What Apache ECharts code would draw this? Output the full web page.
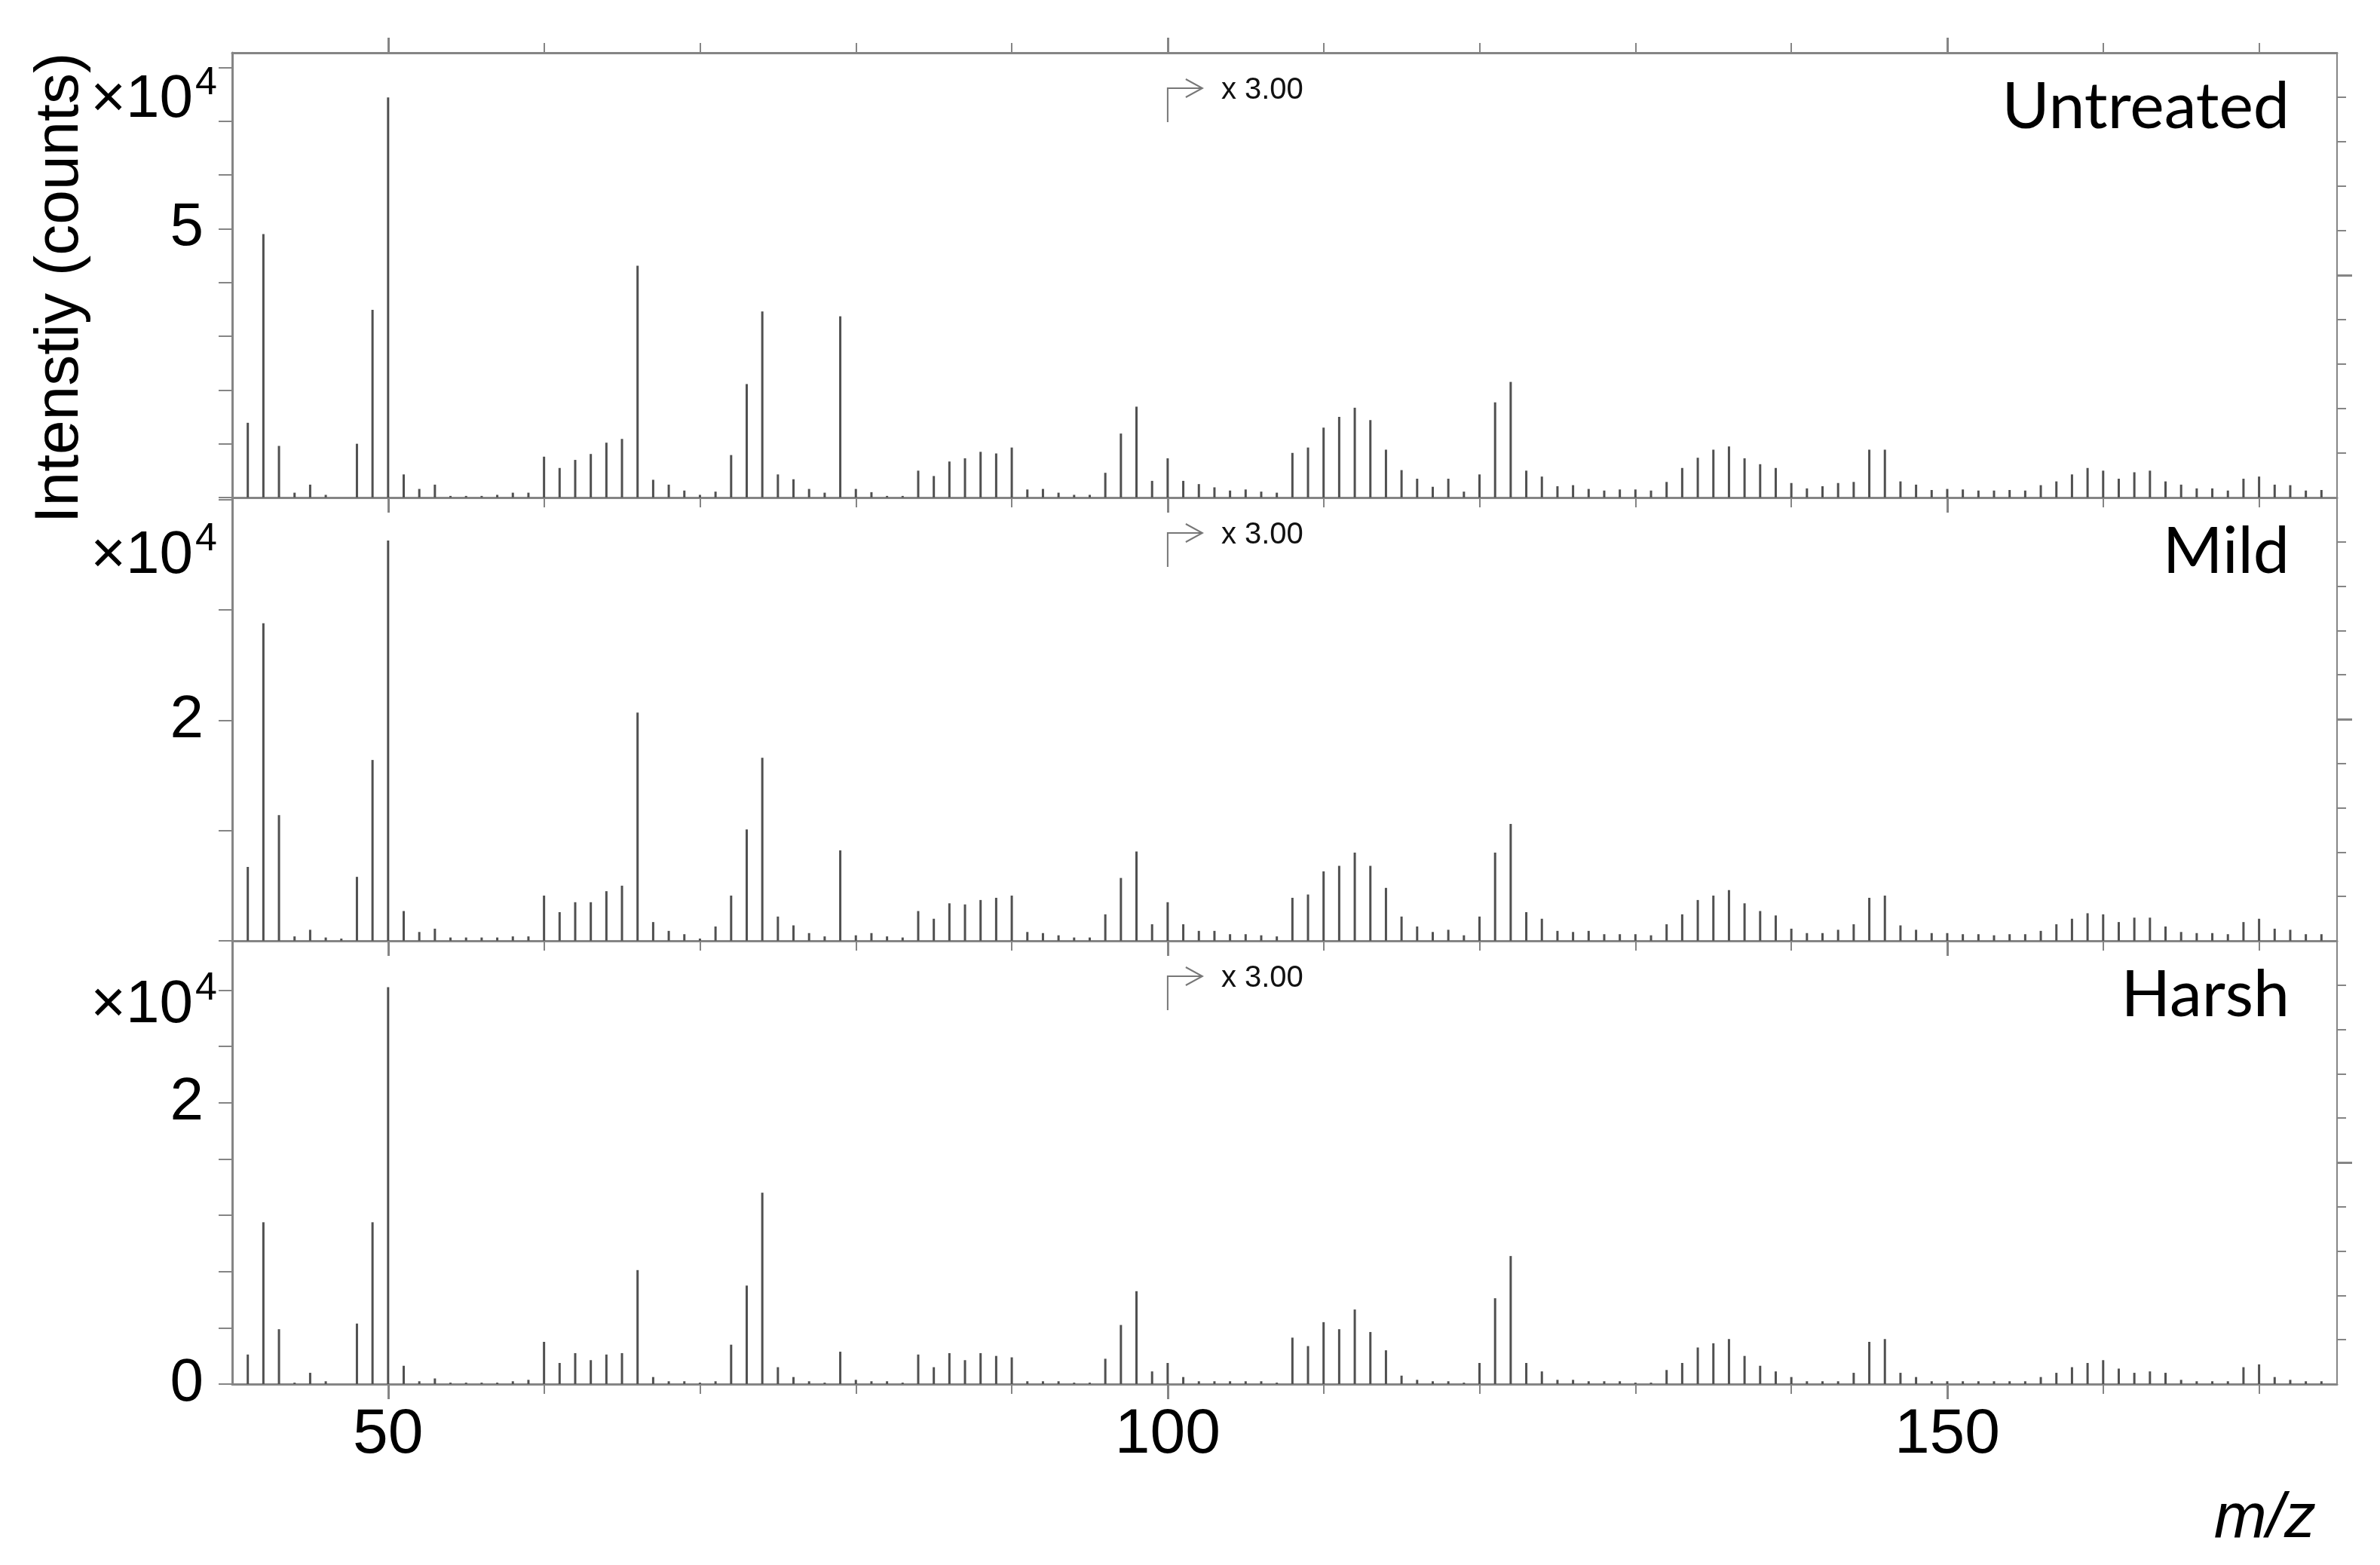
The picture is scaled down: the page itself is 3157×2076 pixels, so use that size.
<!DOCTYPE html>
<html>
<head>
<meta charset="utf-8">
<title>Mass spectra</title>
<script src="https://cdn.jsdelivr.net/npm/echarts@6.0.0/dist/echarts.min.js"></script>
<style>
	html, body { margin: 0; padding: 0; background: #fff; }
	#chart { width: 3157px; height: 2076px; }
</style>
</head>
<body>
<div id="chart"></div>
<script>
// m/z of every peak (one per nominal mass)
const mz = [
	41, 42, 43, 44, 45, 46, 47, 48, 49, 50,
	51, 52, 53, 54, 55, 56, 57, 58, 59, 60,
	61, 62, 63, 64, 65, 66, 67, 68, 69, 70,
	71, 72, 73, 74, 75, 76, 77, 78, 79, 80,
	81, 82, 83, 84, 85, 86, 87, 88, 89, 90,
	91, 92, 93, 94, 95, 96, 97, 98, 99, 100,
	101, 102, 103, 104, 105, 106, 107, 108, 109, 110,
	111, 112, 113, 114, 115, 116, 117, 118, 119, 120,
	121, 122, 123, 124, 125, 126, 127, 128, 129, 130,
	131, 132, 133, 134, 135, 136, 137, 138, 139, 140,
	141, 142, 143, 144, 145, 146, 147, 148, 149, 150,
	151, 152, 153, 154, 155, 156, 157, 158, 159, 160,
	161, 162, 163, 164, 165, 166, 167, 168, 169, 170,
	171, 172, 173, 174
];

// intensities in units of 10^4 counts, as displayed (x3.00 above m/z 100)
const untreated = [
	1.39, 4.90, 0.96, 0.09, 0.24, 0.05, 0, 1.00, 3.49, 7.44,
	0.43, 0.16, 0.24, 0.03, 0.03, 0.03, 0.05, 0.09, 0.09, 0.76,
	0.55, 0.70, 0.81, 1.02, 1.09, 4.31, 0.33, 0.24, 0.13, 0.05,
	0.11, 0.79, 2.11, 3.46, 0.43, 0.34, 0.16, 0.09, 3.37, 0.16,
	0.10, 0.03, 0.03, 0.50, 0.40, 0.67, 0.73, 0.85, 0.82, 0.93,
	0.15, 0.16, 0.09, 0.05, 0.05, 0.46, 1.19, 1.69, 0.31, 0.73,
	0.31, 0.25, 0.19, 0.13, 0.15, 0.11, 0.09, 0.83, 0.93, 1.30,
	1.50, 1.67, 1.44, 0.89, 0.51, 0.35, 0.20, 0.35, 0.11, 0.43,
	1.77, 2.15, 0.50, 0.39, 0.21, 0.23, 0.16, 0.13, 0.15, 0.15,
	0.13, 0.29, 0.55, 0.74, 0.89, 0.95, 0.73, 0.62, 0.55, 0.27,
	0.17, 0.21, 0.27, 0.29, 0.89, 0.89, 0.30, 0.24, 0.14, 0.16,
	0.15, 0.13, 0.13, 0.14, 0.13, 0.23, 0.30, 0.43, 0.55, 0.50,
	0.35, 0.47, 0.50, 0.30, 0.24, 0.17, 0.17, 0.13, 0.35, 0.39,
	0.24, 0.23, 0.13, 0.14
];
const mild = [
	0.67, 2.88, 1.14, 0.04, 0.10, 0.03, 0.02, 0.58, 1.64, 3.63,
	0.27, 0.08, 0.11, 0.03, 0.03, 0.03, 0.03, 0.04, 0.04, 0.41,
	0.26, 0.35, 0.35, 0.45, 0.50, 2.07, 0.17, 0.09, 0.06, 0.02,
	0.13, 0.41, 1.01, 1.66, 0.22, 0.14, 0.07, 0.04, 0.82, 0.05,
	0.07, 0.04, 0.03, 0.27, 0.20, 0.34, 0.33, 0.37, 0.39, 0.41,
	0.08, 0.07, 0.05, 0.03, 0.03, 0.24, 0.57, 0.81, 0.15, 0.35,
	0.15, 0.09, 0.09, 0.06, 0.06, 0.05, 0.04, 0.39, 0.42, 0.63,
	0.68, 0.80, 0.68, 0.48, 0.22, 0.13, 0.08, 0.10, 0.05, 0.22,
	0.80, 1.06, 0.26, 0.20, 0.09, 0.08, 0.09, 0.06, 0.06, 0.06,
	0.05, 0.15, 0.24, 0.37, 0.41, 0.46, 0.34, 0.27, 0.23, 0.11,
	0.07, 0.07, 0.10, 0.15, 0.39, 0.41, 0.14, 0.10, 0.07, 0.07,
	0.06, 0.06, 0.05, 0.06, 0.06, 0.09, 0.15, 0.20, 0.25, 0.24,
	0.17, 0.21, 0.21, 0.13, 0.08, 0.07, 0.07, 0.06, 0.17, 0.20,
	0.11, 0.10, 0.06, 0.06
];
const harsh = [
	0.21, 1.15, 0.39, 0.01, 0.08, 0.02, 0, 0.43, 1.15, 2.82,
	0.13, 0.02, 0.04, 0.01, 0.01, 0.01, 0.01, 0.02, 0.03, 0.30,
	0.15, 0.22, 0.17, 0.21, 0.22, 0.81, 0.05, 0.02, 0.02, 0.01,
	0.02, 0.28, 0.70, 1.36, 0.12, 0.05, 0.02, 0.01, 0.23, 0.03,
	0.02, 0.02, 0.01, 0.21, 0.12, 0.22, 0.17, 0.22, 0.20, 0.19,
	0.02, 0.02, 0.02, 0.01, 0.01, 0.18, 0.42, 0.66, 0.09, 0.15,
	0.05, 0.02, 0.02, 0.02, 0.02, 0.02, 0.01, 0.33, 0.27, 0.44,
	0.39, 0.53, 0.37, 0.24, 0.06, 0.03, 0.02, 0.02, 0.01, 0.15,
	0.61, 0.91, 0.15, 0.09, 0.03, 0.03, 0.02, 0.02, 0.02, 0.01,
	0.01, 0.10, 0.15, 0.26, 0.29, 0.32, 0.20, 0.13, 0.09, 0.05,
	0.02, 0.02, 0.02, 0.08, 0.30, 0.32, 0.08, 0.05, 0.02, 0.02,
	0.02, 0.02, 0.02, 0.02, 0.02, 0.05, 0.08, 0.12, 0.15, 0.17,
	0.11, 0.08, 0.09, 0.08, 0.03, 0.02, 0.02, 0.02, 0.12, 0.14,
	0.05, 0.03, 0.02, 0.02
];

const panelNames = ['Untreated', 'Mild', 'Harsh'];
const panelData = [untreated, mild, harsh];

// axes
const xMin = 40, xMax = 175;
const xMinorTicks = [50, 60, 70, 80, 90, 100, 110, 120, 130, 140, 150, 160, 170];
const xMajorTicks = [50, 100, 150];
const yMax = [8.27, 4.02, 3.15];
const yStep = [1, 1, 0.4];
const yTicks = [
	[0, 1, 2, 3, 4, 5, 6, 7, 8],
	[0, 1, 2, 3, 4],
	[0, 0.4, 0.8, 1.2, 1.6, 2, 2.4, 2.8]
];
const yLabels = [[5], [2], [0, 2]];
const rightTicks = [1, 2, 3, 4, 5, 6, 7, 8, 9];
const scaleFactor = 'x 3.00';
const scaleFrom = 100;

// layout
const gridLeft = 308, gridRight = 57;
const panelTop = [70, 660, 1248];
const panelHeight = [590, 588, 588];
const expY = [133, 738, 1334];
const axisColor = '#858585';
const stickColor = '#505050';
const numFont = '"Liberation Sans", Arial, sans-serif';

let myChart = echarts.init(document.getElementById('chart'), null, {renderer: 'canvas'});

let grids = [], xAxes = [], yAxes = [], series = [];

panelData.forEach(function (vals, i) {
	grids.push({
		left: gridLeft,
		right: gridRight,
		top: panelTop[i],
		height: panelHeight[i],
		containLabel: false,
		outerBoundsMode: 'none'
	});

	let xBase = {
		type: 'value',
		gridIndex: i,
		min: xMin,
		max: xMax,
		position: 'bottom',
		splitLine: {show: false},
		axisLine: {show: true, onZero: false, lineStyle: {color: axisColor, width: 3}},
		axisLabel: {show: false}
	};
	// short ticks every 10
	let bottomIdx = xAxes.length;
	xAxes.push(Object.assign({}, xBase, {
		axisTick: {show: true, length: 13, customValues: xMinorTicks, lineStyle: {color: axisColor, width: 2}}
	}));
	// long ticks at 50, 100, 150
	let longAxis = Object.assign({}, xBase, {
		axisLine: {show: false, onZero: false},
		axisTick: {show: true, length: 20, customValues: xMajorTicks, lineStyle: {color: axisColor, width: 3}}
	});
	if (i === 2) {
		longAxis.axisLabel = {
			show: true,
			customValues: xMajorTicks,
			margin: 26,
			fontSize: 84,
			fontFamily: numFont,
			color: '#000'
		};
	}
	xAxes.push(longAxis);
	if (i === 0) {
		xAxes.push(Object.assign({}, xBase, {
			position: 'top',
			axisLine: {show: true, onZero: false, lineStyle: {color: axisColor, width: 3}},
			axisTick: {show: true, length: 13, customValues: xMinorTicks, lineStyle: {color: axisColor, width: 2}}
		}));
		xAxes.push(Object.assign({}, xBase, {
			position: 'top',
			axisLine: {show: false, onZero: false},
			axisTick: {show: true, length: 20, customValues: xMajorTicks, lineStyle: {color: axisColor, width: 3}}
		}));
	}

	let leftIdx = yAxes.length;
	yAxes.push({
		type: 'value',
		gridIndex: i,
		position: 'left',
		min: 0,
		max: yMax[i],
		interval: yStep[i],
		splitLine: {show: false},
		axisLine: {show: true, onZero: false, lineStyle: {color: axisColor, width: 3}},
		axisTick: {show: true, length: 18, customValues: yTicks[i], lineStyle: {color: axisColor, width: 2}},
		axisLabel: {
			show: true,
			customValues: yLabels[i],
			margin: 38,
			fontSize: 80,
			fontFamily: numFont,
			color: '#000'
		}
	});
	yAxes.push({
		type: 'value',
		gridIndex: i,
		position: 'right',
		min: 0,
		max: 10,
		interval: 1,
		splitLine: {show: false},
		axisLine: {show: true, onZero: false, lineStyle: {color: axisColor, width: 2}},
		axisTick: {show: true, length: 12, customValues: rightTicks, lineStyle: {color: axisColor, width: 2}},
		axisLabel: {show: false}
	});
	yAxes.push({
		type: 'value',
		gridIndex: i,
		position: 'right',
		min: 0,
		max: 10,
		interval: 1,
		splitLine: {show: false},
		axisLine: {show: false, onZero: false},
		axisTick: {show: true, length: 20, customValues: [5], lineStyle: {color: axisColor, width: 3}},
		axisLabel: {show: false}
	});

	series.push({
		name: panelNames[i],
		type: 'bar',
		xAxisIndex: bottomIdx,
		yAxisIndex: leftIdx,
		barWidth: 3,
		silent: true,
		itemStyle: {color: stickColor},
		data: mz.map(function (m, j) { return [m, vals[j]]; })
	});
});

myChart.setOption({
	animation: false,
	backgroundColor: '#fff',
	grid: grids,
	xAxis: xAxes,
	yAxis: yAxes,
	series: series
});

// annotations: panel names, exponent, axis names, x3.00 arrows
let xScaleAt = myChart.convertToPixel({xAxisIndex: 0}, scaleFrom);
let graphics = [];
panelTop.forEach(function (t, i) {
	graphics.push({
		type: 'text',
		x: 3037,
		y: t + 72,
		style: {
			text: panelNames[i],
			font: '86px Lato, "Noto Sans", sans-serif',
			fill: '#000',
			textAlign: 'right',
			textVerticalAlign: 'middle'
		}
	});
	graphics.push({
		type: 'text',
		x: 256,
		y: expY[i],
		style: {
			text: '\u00d710',
			font: '80px ' + numFont,
			fill: '#000',
			textAlign: 'right',
			textVerticalAlign: 'middle'
		}
	});
	graphics.push({
		type: 'text',
		x: 259,
		y: expY[i] - 22,
		style: {
			text: '4',
			font: '52px ' + numFont,
			fill: '#000',
			textAlign: 'left',
			textVerticalAlign: 'middle'
		}
	});
	graphics.push({
		type: 'polyline',
		shape: {points: [[xScaleAt, t + 92], [xScaleAt, t + 47], [xScaleAt + 46, t + 47]]},
		style: {stroke: '#777', lineWidth: 2, fill: null}
	});
	graphics.push({
		type: 'polyline',
		shape: {points: [[xScaleAt + 24, t + 35], [xScaleAt + 46, t + 47], [xScaleAt + 24, t + 59]]},
		style: {stroke: '#777', lineWidth: 2, fill: null}
	});
	graphics.push({
		type: 'text',
		x: xScaleAt + 71,
		y: t + 50,
		style: {
			text: scaleFactor,
			font: '40px ' + numFont,
			fill: '#111',
			textAlign: 'left',
			textVerticalAlign: 'middle'
		}
	});
});
graphics.push({
	type: 'text',
	x: 80,
	y: 382,
	rotation: Math.PI / 2,
	style: {
		text: 'Intenstiy (counts)',
		font: '82px ' + numFont,
		fill: '#000',
		textAlign: 'center',
		textVerticalAlign: 'middle'
	}
});
graphics.push({
	type: 'text',
	x: 3072,
	y: 2016,
	style: {
		text: 'm/z',
		font: 'italic 84px ' + numFont,
		fill: '#000',
		textAlign: 'right',
		textVerticalAlign: 'middle'
	}
});

myChart.setOption({graphic: graphics});
</script>
</body>
</html>
